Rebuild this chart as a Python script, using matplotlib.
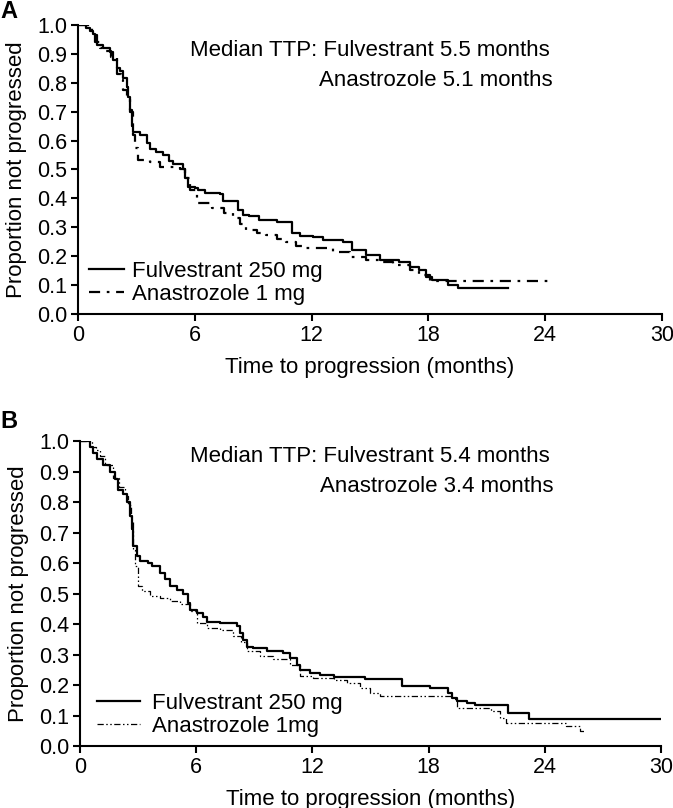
import matplotlib
matplotlib.use('Agg')
from matplotlib import pyplot as plt

plt.rcParams['font.family'] = ['Liberation Sans', 'DejaVu Sans']

# Panel A: Kaplan-Meier steps (time in months, proportion not progressed)
a_fulv_t = [0, 0.4, 0.6, 0.78, 0.85, 1.0, 1.3, 1.64, 1.81, 1.98, 2.15, 2.32, 2.5, 2.58,
            2.67, 2.75, 2.84, 3.18, 3.52, 3.69, 4.03, 4.37, 4.7, 4.87, 5.4, 5.5, 5.66,
            6.0, 6.17, 6.5, 7.28, 7.45, 8.22, 8.48, 8.8, 9.3, 10.2, 11.0, 11.4, 12.07,
            12.6, 13.6, 14.1, 14.8, 15.5, 16.5, 17.05, 17.5, 17.9, 18.2, 19.0, 19.5, 22.1]
a_fulv_s = [1.0, 0.99, 0.98, 0.97, 0.94, 0.93, 0.92, 0.907, 0.88, 0.85, 0.84, 0.815, 0.787, 0.75,
            0.706, 0.65, 0.63, 0.62, 0.59, 0.57, 0.56, 0.55, 0.53, 0.52, 0.50, 0.47, 0.44,
            0.435, 0.43, 0.42, 0.415, 0.39, 0.36, 0.343, 0.34, 0.325, 0.32, 0.28, 0.27, 0.265,
            0.255, 0.25, 0.221, 0.204, 0.187, 0.181, 0.164, 0.152, 0.129, 0.118, 0.10, 0.089, 0.089]

a_anas_t = [0, 0.5, 0.7, 0.87, 1.0, 1.13, 1.4, 1.7, 1.98, 2.2, 2.32, 2.5, 2.67, 2.8,
            2.92, 3.1, 3.69, 4.2, 5.23, 5.5, 5.74, 6.1, 6.9, 7.5, 7.96, 8.3, 8.65, 9.2,
            9.67, 10.2, 10.7, 11.2, 11.7, 13.1, 13.95, 14.8, 15.5, 16.2, 17.05, 17.5, 18.1, 24.2]
a_anas_s = [1.0, 0.99, 0.98, 0.965, 0.94, 0.92, 0.91, 0.89, 0.83, 0.81, 0.775, 0.75, 0.70, 0.62,
            0.573, 0.533, 0.525, 0.51, 0.50, 0.47, 0.43, 0.383, 0.366, 0.35, 0.331, 0.31, 0.29, 0.28,
            0.273, 0.26, 0.25, 0.235, 0.227, 0.215, 0.198, 0.187, 0.18, 0.17, 0.152, 0.135, 0.115, 0.115]

# Panel B
b_fulv_t = [0, 0.52, 0.69, 0.86, 1.2, 1.55, 1.81, 1.95, 2.24, 2.41, 2.58, 2.67, 2.75,
            2.93, 3.1, 3.53, 3.7, 4.13, 4.39, 4.65, 5.0, 5.33, 5.6, 5.68, 6.02, 6.37,
            6.54, 7.23, 8.09, 8.26, 8.43, 8.6, 8.95, 9.64, 10.5, 10.84, 11.19, 11.36,
            11.88, 12.4, 13.1, 14.7, 16.6, 18.07, 19.0, 19.19, 19.45, 19.96, 20.4, 22.1, 23.2, 30]
b_fulv_s = [1.0, 0.98, 0.96, 0.94, 0.92, 0.90, 0.875, 0.84, 0.826, 0.80, 0.755, 0.71, 0.656,
            0.623, 0.606, 0.60, 0.59, 0.567, 0.546, 0.524, 0.513, 0.50, 0.469, 0.446, 0.435, 0.424,
            0.408, 0.403, 0.392, 0.37, 0.348, 0.326, 0.32, 0.31, 0.305, 0.289, 0.266, 0.25,
            0.238, 0.233, 0.227, 0.219, 0.197, 0.19, 0.174, 0.157, 0.146, 0.14, 0.133, 0.107, 0.09, 0.09]

b_anas_t = [0, 0.6, 0.8, 1.03, 1.3, 1.72, 2.0, 2.3, 2.5, 2.65, 2.75, 2.84, 3.01, 3.18,
            3.61, 4.13, 4.65, 5.16, 5.68, 6.02, 6.54, 7.23, 7.92, 8.3, 8.6, 9.29, 9.98,
            10.84, 11.36, 12.05, 13.1, 13.77, 14.46, 14.97, 15.49, 19.27, 19.45, 21.2,
            21.7, 22.0, 25.1, 25.8, 26.0]
b_anas_s = [1.0, 0.98, 0.97, 0.95, 0.92, 0.88, 0.85, 0.82, 0.79, 0.74, 0.643, 0.589, 0.524, 0.508,
            0.492, 0.486, 0.475, 0.464, 0.442, 0.403, 0.387, 0.38, 0.361, 0.34, 0.311, 0.295, 0.284,
            0.267, 0.228, 0.222, 0.216, 0.206, 0.19, 0.174, 0.163, 0.154, 0.125, 0.114,
            0.092, 0.076, 0.066, 0.05, 0.05]

x_ticks = [0, 6, 12, 18, 24, 30]
y_ticks = [0.0, 0.1, 0.2, 0.3, 0.4, 0.5, 0.6, 0.7, 0.8, 0.9, 1.0]

FS = 16
TFS = 15.5


def style_axes(ax):
    ax.set_xlim(0, 30)
    ax.set_ylim(0, 1.0)
    ax.set_xticks(x_ticks)
    ax.set_yticks(y_ticks)
    ax.set_yticklabels(['%.1f' % v for v in y_ticks])
    for s in ['top', 'right']:
        ax.spines[s].set_visible(False)
    for s in ['left', 'bottom']:
        ax.spines[s].set_linewidth(1.5)
    ax.tick_params(direction='out', length=5, width=1.5, labelsize=TFS, pad=3)
    ax.set_xlabel('Time to progression (months)', fontsize=FS, labelpad=7.5)
    ax.set_ylabel('Proportion not progressed', fontsize=FS, labelpad=7)


fig = plt.figure(figsize=(6.73, 8.08), dpi=100)
axA = fig.add_axes([0.1159, 0.6114, 0.8678, 0.3577])
axB = fig.add_axes([0.1189, 0.0767, 0.8633, 0.3775])

# Panel A
lA1, = axA.step(a_fulv_t, a_fulv_s, where='post', color='black', lw=1.6)
lA2, = axA.step(a_anas_t, a_anas_s, where='post', color='black', lw=1.6,
                linestyle=(0, (5, 3, 1.2, 3)))
style_axes(axA)
fig.text(550 / 673, 1 - 51 / 808, 'Median TTP: Fulvestrant 5.5 months', ha='right',
         va='center', fontsize=FS)
fig.text(553 / 673, 1 - 81 / 808, 'Anastrozole 5.1 months', ha='right',
         va='center', fontsize=FS)
axA.legend([lA1, lA2], ['Fulvestrant 250 mg', 'Anastrozole 1 mg'], loc='lower left',
           bbox_to_anchor=(0.003, 0.0), frameon=False, fontsize=FS, handlelength=1.6,
           handletextpad=0.37, labelspacing=0.1, borderaxespad=0.0)
fig.text(0.0, 1 - 11 / 808, 'A', fontsize=17, fontweight='bold', va='center')

# Panel B
lB1, = axB.step(b_fulv_t, b_fulv_s, where='post', color='black', lw=1.6)
lB2, = axB.step(b_anas_t, b_anas_s, where='post', color='black', lw=0.9,
                linestyle=(0, (5, 2, 1.2, 2, 1.2, 2)))
style_axes(axB)
fig.text(550 / 673, 1 - 457 / 808, 'Median TTP: Fulvestrant 5.4 months', ha='right',
         va='center', fontsize=FS)
fig.text(553 / 673, 1 - 486 / 808, 'Anastrozole 3.4 months', ha='right',
         va='center', fontsize=FS)
axB.legend([lB1, lB2], ['Fulvestrant 250 mg', 'Anastrozole 1mg'], loc='lower left',
           bbox_to_anchor=(0.0145, 0.0), frameon=False, fontsize=FS, handlelength=1.9,
           handletextpad=0.55, labelspacing=0.1, borderaxespad=0.0)
fig.text(0.0, 1 - 422 / 808, 'B', fontsize=17, fontweight='bold', va='center')

fig.savefig('out.png', dpi=100)
